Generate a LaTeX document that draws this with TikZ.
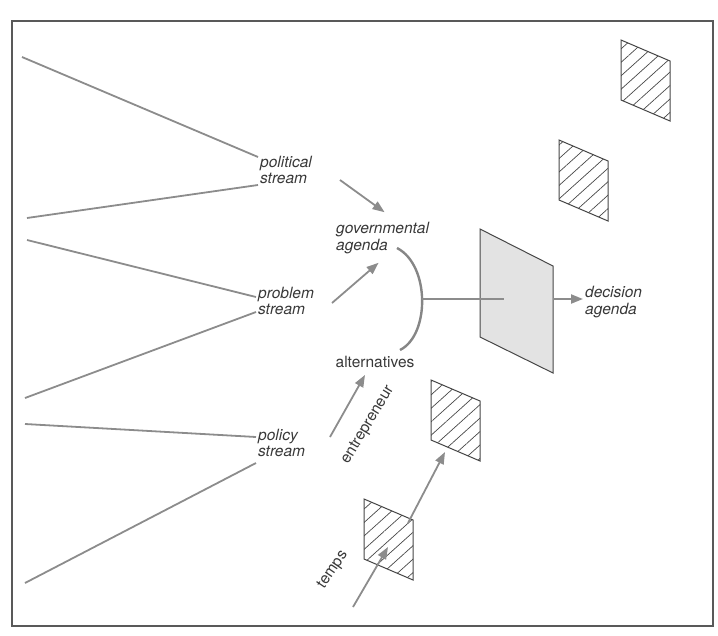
\documentclass[tikz,border=0pt]{standalone}
\usepackage{fontspec}
\setmainfont{TeX Gyre Heros}
\usetikzlibrary{arrows.meta,patterns.meta}

\definecolor{linegrey}{gray}{0.55}
\definecolor{textgrey}{gray}{0.22}
\definecolor{boxline}{gray}{0.28}
\definecolor{framegrey}{gray}{0.35}

\tikzset{
  flow/.style={draw=linegrey, line width=1.8pt},
  push/.style={flow, -{Triangle[length=12pt,width=9pt]}},
  lbl/.style={font=\fontsize{15.5}{16.5}\selectfont\itshape, text=textgrey, align=left, inner sep=2pt, anchor=west},
  plain/.style={font=\fontsize{15.5}{16.5}\selectfont, text=textgrey, inner sep=1pt},
  hatchbox/.pic={
    \draw[draw=boxline, line width=1pt, pattern={Lines[angle=42,distance=10pt,line width=0.7pt]}, pattern color=boxline]
      (0,0) coordinate (-nw) -- (49,21) coordinate (-ne) -- (49,81) coordinate (-se) -- (0,60) coordinate (-sw) -- cycle;
  }
}

\begin{document}
\begin{tikzpicture}[x=1pt,y=-1pt]
		\useasboundingbox (0,0) rectangle (718,635);
		\draw[draw=framegrey, line width=1.2pt] (12,21) rectangle (713,626);

		% the three streams
		\node[lbl] (pol) at (258,170) {political\\stream};
		\node[lbl] (prob) at (256,301) {problem\\stream};
		\node[lbl] (polc) at (256,443) {policy\\stream};

		\coordinate (s1) at (22,57);
		\coordinate (s2) at (27,218);
		\coordinate (s3) at (27,240);
		\coordinate (s4) at (25,398);
		\coordinate (s5) at (25,424);
		\coordinate (s6) at (25,583);
		\draw[flow] (s1) -- ([yshift=13pt]pol.west);
		\draw[flow] (s2) -- ([yshift=-15pt]pol.west);
		\draw[flow] (s3) -- ([yshift=4pt]prob.west);
		\draw[flow] (s4) -- ([yshift=-11pt]prob.west);
		\draw[flow] (s5) -- ([yshift=6pt]polc.west);
		\draw[flow] (s6) -- ([yshift=-20pt]polc.west);

		% agendas
		\node[lbl] (gov) at (334,238) {governmental\\agenda};
		\node[plain] (alt) at (375,362) {alternatives};
		\node[lbl] (dec) at (583,302) {decision\\agenda};

		\coordinate (p1) at (340,180);
		\coordinate (p2) at (332,303);
		\coordinate (p3) at (330,437);
		\draw[push] (p1) -- ([xshift=2pt,yshift=8pt]gov.north);
		\draw[push] (p2) -- ([xshift=-4pt,yshift=-7pt]gov.south);
		\draw[push] (p3) -- ([xshift=-10pt,yshift=-6pt]alt.south);

		\coordinate (a1) at (397,248);
		\coordinate (a2) at (400,350);
		\coordinate (mid) at (422,299);
		\draw[flow, line width=2.4pt, draw=gray!95!white] (a1) .. controls (430,265) and (430,335) .. (a2);

		% window
		\draw[draw=boxline, fill=gray!22, line width=1pt] (480,229) coordinate (t-nw) -- (553,266) coordinate (t-ne) -- (553,373) coordinate (t-se) -- (480,337) coordinate (t-sw) -- cycle;
		\draw[flow, line width=2.2pt] (mid) -- (504,299);
		\draw[push, line width=2.2pt] (mid -| t-ne) -- (mid -| dec.west);

		% hatched windows
		\pic (b1) at (621,40) {hatchbox};
		\pic (b2) at (559,140) {hatchbox};
		\pic (b3) at (431,380) {hatchbox};
		\pic (b4) at (364,499) {hatchbox};

		\coordinate (t0) at (353,607);
		\draw[push] (t0) -- ([xshift=24pt,yshift=-48pt]b4-nw);
		\draw[push] ([xshift=-5pt,yshift=-3pt]b4-ne) -- ([xshift=14pt,yshift=-12pt]b3-sw);

		\node[plain, rotate=59] (entr) at (368,425) {entrepreneur};
		\node[plain, rotate=56] (temps) at (333,570) {temps};
	\end{tikzpicture}
\end{document}
